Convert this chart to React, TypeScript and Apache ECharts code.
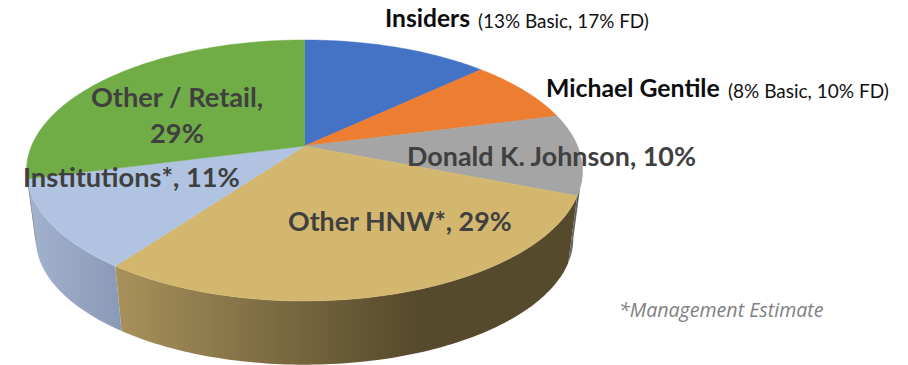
import React, { useEffect, useRef } from "react";
import * as echarts from "echarts";

// Ownership split, clockwise from twelve o'clock, in percent.
const holders = ["Insiders", "Michael Gentile", "Donald K. Johnson", "Other HNW*", "Institutions*", "Other / Retail"];
const shares = [13, 8, 10, 29, 11, 29];
const topColors = ["#4472C4", "#ED7D31", "#A5A5A5", "#D4B76F", "#B0C4E2", "#70AD47"];

// Perspective model of the disc: a unit circle tilted towards the viewer.
const CX = 304.5;
const TILT = 0.1877;
const TOP_DISC = { y: 146, a: 125.9, b: 273 };
const BOTTOM_DISC = { y: 215, a: 121.6, b: 264 };
const WALL_FROM = 100.8;
const WALL_TO = 259.2;

type Disc = { y: number; a: number; b: number };

const project = (disc: Disc, deg: number): number[] => {
  const t = (deg * Math.PI) / 180;
  const u = Math.sin(t);
  const v = -Math.cos(t);
  const w = 1 - TILT * v;
  return [CX + (disc.b * u) / w, disc.y + (disc.a * v) / w];
};

const arc = (disc: Disc, from: number, to: number): number[][] => {
  const n = Math.max(2, Math.ceil(Math.abs(to - from)));
  const pts: number[][] = [];
  for (let k = 0; k <= n; k++) pts.push(project(disc, from + ((to - from) * k) / n));
  return pts;
};

const sweepOf = (index: number) => {
  const total = shares.reduce((a, b) => a + b, 0);
  const before = shares.slice(0, index).reduce((a, b) => a + b, 0);
  return [(before / total) * 360, ((before + shares[index]) / total) * 360];
};

const wallFill = (index: number) => {
  const stops: Record<number, [number, string][]> = {
    2: [[0, "#6A6A6A"], [1, "#585858"]],
    3: [[0, "#A8915A"], [0.65, "#564A2C"], [1, "#564A2C"]],
    4: [[0, "#A2B2CF"], [1, "#8A99B6"]],
  };
  const s = stops[index];
  if (!s) return "#808080";
  return new echarts.graphic.LinearGradient(0, 0, 1, 0, s.map(([offset, color]) => ({ offset, color })));
};

const wallItem = (params: any) => {
  const [start, end] = sweepOf(params.dataIndex);
  const from = Math.max(start, WALL_FROM);
  const to = Math.min(end, WALL_TO);
  if (to <= from) return { type: "group", children: [] };
  const fill = wallFill(params.dataIndex);
  return {
    type: "polygon",
    silent: true,
    shape: { points: [...arc(TOP_DISC, from, to), ...arc(BOTTOM_DISC, to, from)] },
    style: { fill },
  };
};

const faceItem = (params: any) => {
  const [start, end] = sweepOf(params.dataIndex);
  const color = topColors[params.dataIndex];
  return {
    type: "polygon",
    silent: true,
    shape: { points: [[CX, TOP_DISC.y], ...arc(TOP_DISC, start, end)] },
    style: { fill: color, stroke: color, lineWidth: 0.5 },
  };
};

const BODY = "Lato, Carlito, sans-serif";

const label = (text: string, x: number, y: number, size: number, opts: any = {}) => ({
  type: "text",
  x,
  y,
  silent: true,
  z: 10,
  style: {
    text,
    fontFamily: BODY,
    fontSize: size,
    fontWeight: 700,
    fill: "#404040",
    textVerticalAlign: "middle",
    verticalAlign: "middle",
    ...opts,
  },
});

const plain = { fontWeight: 400, fill: "#111111" };

export default function App() {
  const ref = useRef<HTMLDivElement>(null);

  useEffect(() => {
    const chart = echarts.init(ref.current!, undefined, { renderer: "svg" });
    const data = shares.map((value, i) => ({ name: holders[i], value: [value] }));
    chart.setOption({
      animation: false,
      backgroundColor: "#ffffff",
      series: [
        { type: "custom", coordinateSystem: "none", silent: true, z: 1, data, renderItem: wallItem },
        { type: "custom", coordinateSystem: "none", silent: true, z: 2, data, renderItem: faceItem },
      ],
      graphic: [
        label("Insiders", 385, 17, 24.6, { fill: "#0d0d0d" }),
        label("(13% Basic, 17% FD)", 478, 20, 18.9, plain),
        label("Michael Gentile", 546, 87, 24.8, { fill: "#0d0d0d" }),
        label("(8% Basic, 10% FD)", 728, 90, 19, plain),
        label("Donald K. Johnson, 10%", 407, 155, 26.9),
        label("Other HNW*, 29%", 288, 221, 26.8),
        label("Institutions*, 11%", 23, 176, 27.2),
        label("Other / Retail,", 177, 96, 27.2, { textAlign: "center", align: "center" }),
        label("29%", 177, 132, 27.2, { textAlign: "center", align: "center" }),
        {
          type: "text",
          x: 619,
          y: 309,
          silent: true,
          z: 10,
          style: {
            text: "*Management Estimate",
            fontFamily: "'Open Sans', sans-serif",
            fontStyle: "italic",
            fontSize: 19.6,
            fill: "#808080",
            verticalAlign: "middle",
          },
        },
      ],
    });
    return () => chart.dispose();
  }, []);

  return <div ref={ref} style={{ position: "fixed", left: 0, top: 0, width: 908, height: 365 }} />;
}
